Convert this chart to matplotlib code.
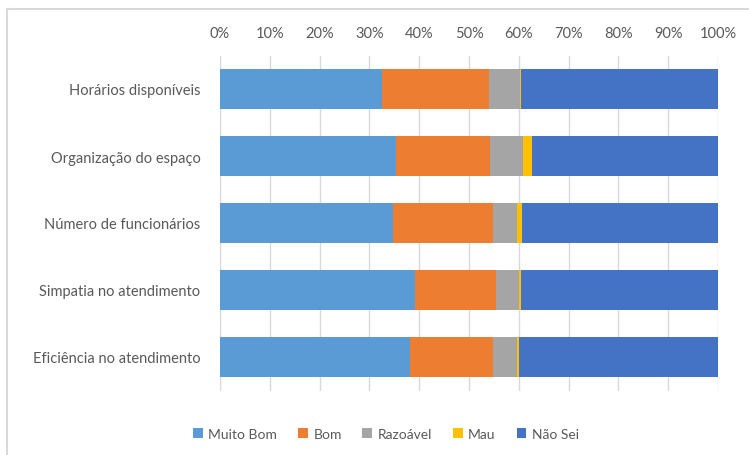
import matplotlib
matplotlib.use("Agg")
import matplotlib.pyplot as plt
from matplotlib.lines import Line2D
from matplotlib.ticker import PercentFormatter
import numpy as np

plt.rcParams['font.family'] = ['Lato', 'DejaVu Sans']

categories = [
    "Horários disponíveis",
    "Organização do espaço",
    "Número de funcionários",
    "Simpatia no atendimento",
    "Eficiência no atendimento",
]
series_names = ["Muito Bom", "Bom", "Razoável", "Mau", "Não Sei"]
muito_bom = [32.5, 35.3, 34.8, 39.2, 38.2]
bom = [21.6, 18.9, 20.0, 16.2, 16.7]
razoavel = [6.1, 6.7, 4.8, 4.7, 4.7]
mau = [0.3, 1.7, 1.0, 0.4, 0.5]
nao_sei = [39.5, 37.4, 39.4, 39.5, 39.9]

colors = ["#5B9BD5", "#ED7D31", "#A5A5A5", "#FFC000", "#4472C4"]
text_color = "#595959"

fig = plt.figure(figsize=(7.49, 4.56), dpi=100)
W, H = 749, 456
ax = fig.add_axes([220 / W, 1 - 391.5 / H, 498 / W, 335 / H])

# chart-area frame (top and left edges)
frame_kw = dict(transform=fig.transFigure, color="#D9D9D9", linewidth=1.5)
fig.add_artist(Line2D([7 / W, 1], [1 - 10 / H, 1 - 10 / H], **frame_kw))
fig.add_artist(Line2D([7 / W, 7 / W], [0, 1 - 10 / H], **frame_kw))

y = np.arange(len(categories))
left = np.zeros(len(categories))
for name, vals, c in zip(series_names, [muito_bom, bom, razoavel, mau, nao_sei], colors):
    vals = np.array(vals)
    ax.barh(y, vals, left=left, height=0.61, color=c, label=name, zorder=3)
    left += vals

ax.set_xlim(0, 100)
ax.set_ylim(len(categories) - 0.5, -0.5)
ax.set_yticks(y)
ax.set_yticklabels(categories)
ax.set_xticks(np.arange(0, 101, 10))
ax.xaxis.set_major_formatter(PercentFormatter(decimals=0))
ax.xaxis.tick_top()
ax.tick_params(axis="both", length=0, labelsize=10.5, colors=text_color)
ax.tick_params(axis="x", pad=11)
ax.tick_params(axis="y", pad=14)
ax.grid(axis="x", color="#D9D9D9", linewidth=1, zorder=0)
for s in ax.spines.values():
    s.set_visible(False)

leg = fig.legend(loc="center", bbox_to_anchor=(386 / W, 1 - 435 / H), ncol=5, frameon=False,
                 fontsize=10, handlelength=0.7, handleheight=0.7, handletextpad=0.4,
                 columnspacing=1.5)
for t in leg.get_texts():
    t.set_color(text_color)

fig.savefig("out.png", dpi=100)
